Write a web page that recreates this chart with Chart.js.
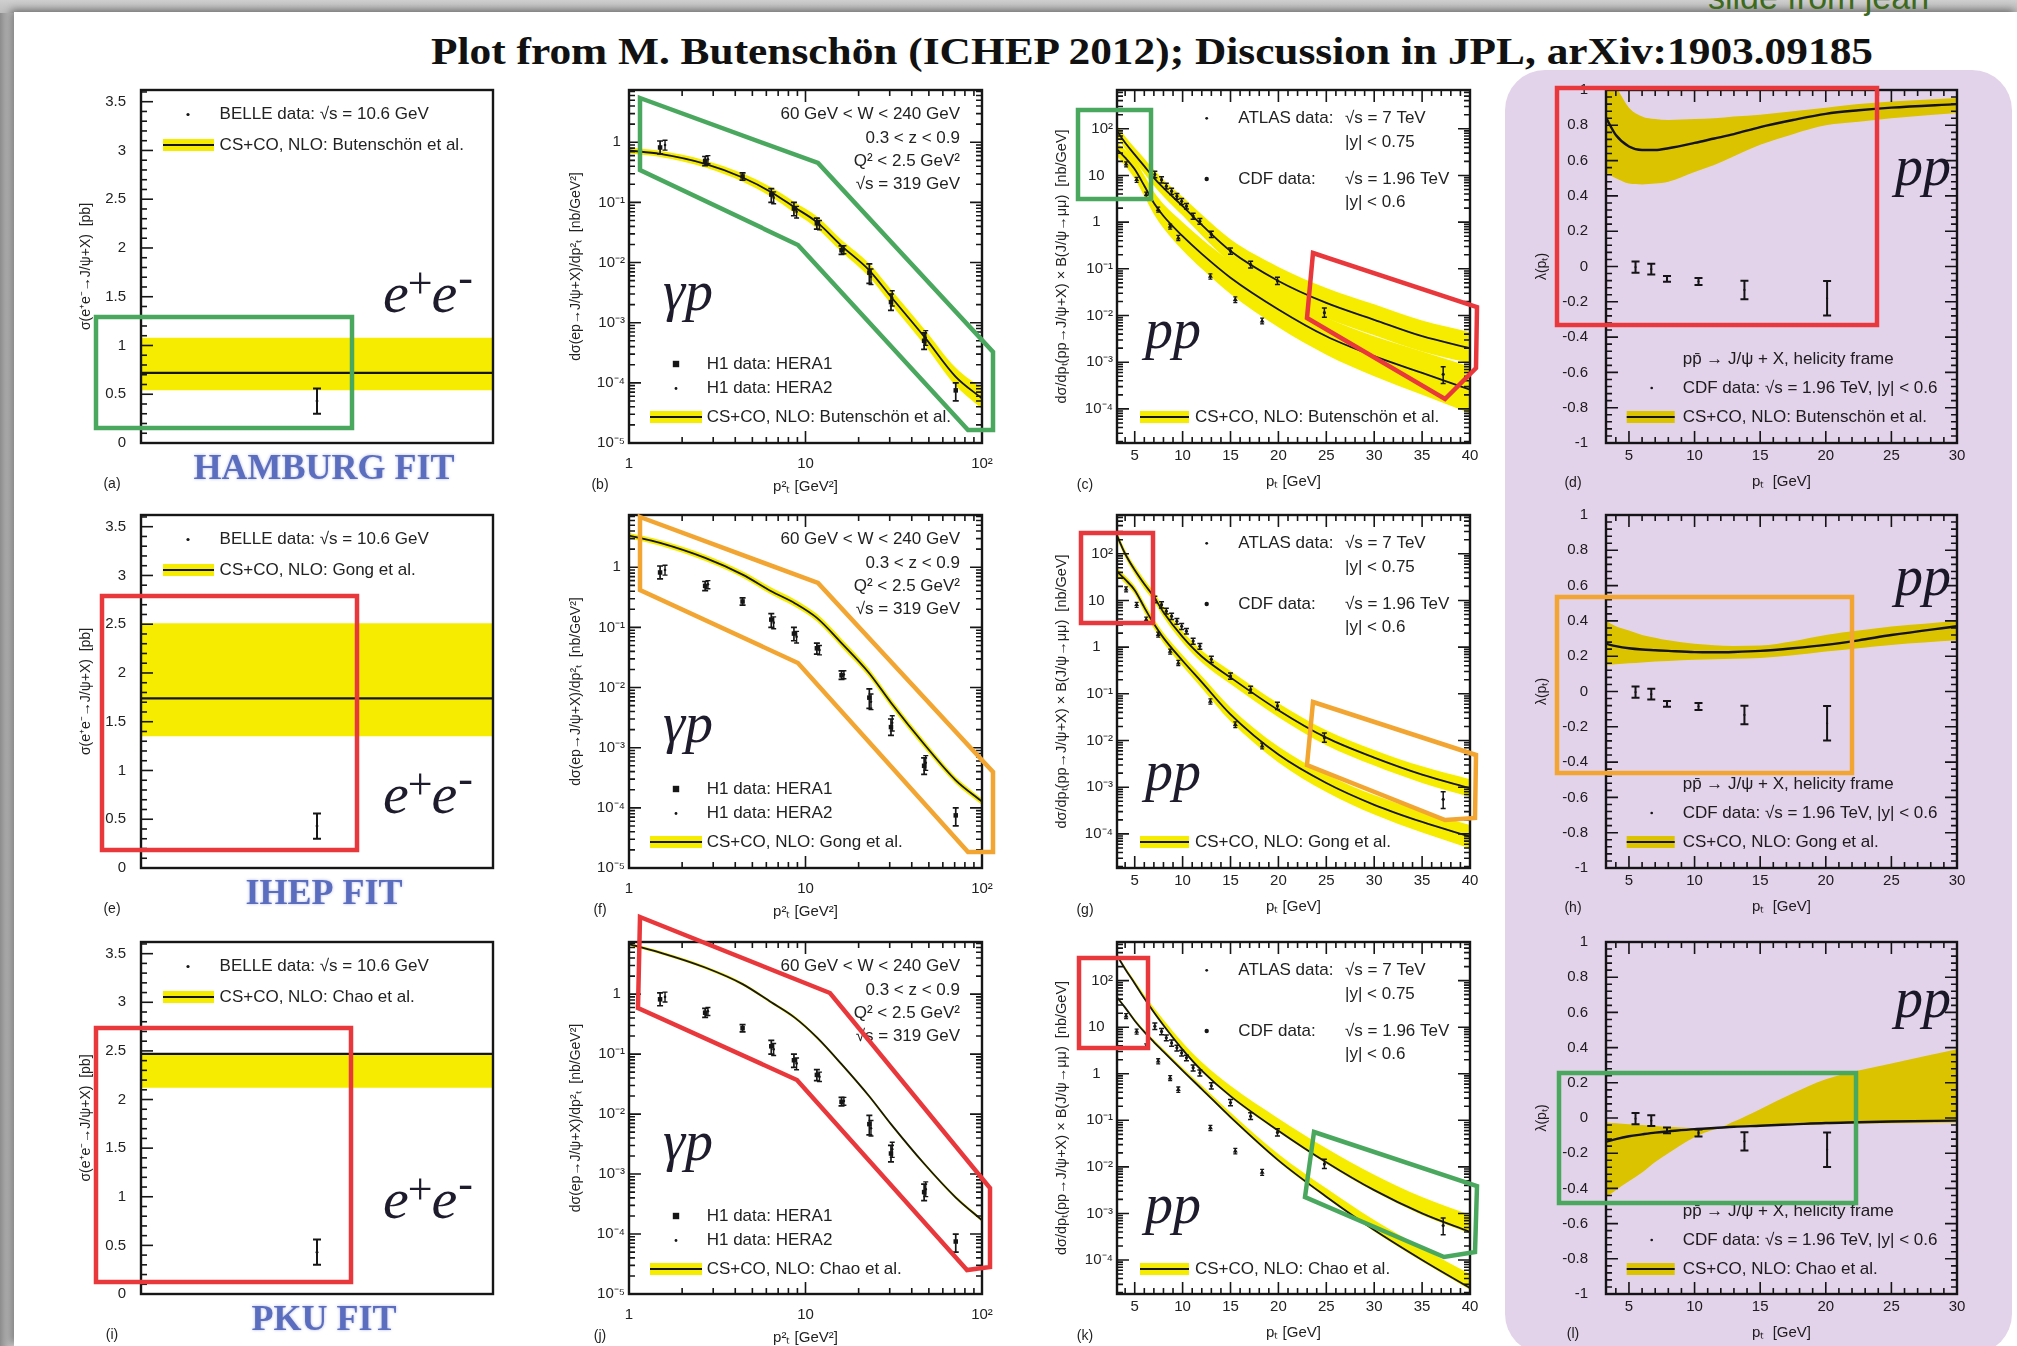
<!DOCTYPE html>
<html>
<head>
<meta charset="utf-8">
<title>J/ψ production and polarisation: three NLO NRQCD fits</title>
<script src="https://cdn.jsdelivr.net/npm/chart.js@4.4.1/dist/chart.umd.min.js"></script>
<style>
  html, body { margin: 0; padding: 0; }
  body { width: 2017px; height: 1346px; overflow: hidden; background: #9a9a9a; }
  #sheet { position: absolute; left: 0; top: 0; width: 2017px; height: 1346px; overflow: hidden;
           isolation: isolate; background: linear-gradient(to right, #8c8c8c 0px, #b9b9b9 8px, #d6d6d6 14px); }
  #topbar { position: absolute; left: 0; top: 0; width: 2017px; height: 13px;
            background: linear-gradient(to bottom, #cfcfcf, #bdbdbd); }
  #paper { position: absolute; left: 14px; top: 12px; right: 0; bottom: 0; background: #fff;
           box-shadow: -3px -2px 8px rgba(0,0,0,0.45); }
  #credit { position: absolute; left: 1708px; top: -22px; font: 34px "Liberation Sans Narrow", "Liberation Sans", sans-serif;
            color: #3d6a1c; white-space: nowrap; }
  #title { position: absolute; top: 30px; left: 0; white-space: nowrap; transform-origin: 0 0;
           font: bold 37px "Liberation Serif", "Times New Roman", serif; color: #111; }
  .panel { position: absolute; }
  .panel canvas { display: block; filter: blur(0.45px); }
  #lilac { position: absolute; left: 1505px; top: 70px; width: 507px; height: 1284px; border-radius: 40px;
           background: #e3d3ea; mix-blend-mode: multiply; pointer-events: none; }
  #boxes { position: absolute; left: 0; top: 0; pointer-events: none; }
</style>
</head>
<body>
<div id="sheet">
  <div id="topbar"></div>
  <div id="paper"></div>
  <div id="credit">slide from jean</div>
  <div id="title">Plot from M. Butenschön (ICHEP 2012); Discussion in JPL, arXiv:1903.09185</div>
  <div id="lilac"></div>
  <svg id="boxes" width="2017" height="1346" viewBox="0 0 2017 1346" fill="none" stroke-width="4.5" stroke-linejoin="miter">
    <g stroke="#4aa85e">
      <rect x="96" y="317" width="256" height="111"/>
      <polygon points="640,98 818,163 993,352 993,430 968,430 798,245 640,170"/>
      <rect x="1078" y="110" width="73" height="89"/>
      <polygon points="1314,1132 1477,1186 1475,1252 1444,1257 1305,1197"/>
      <rect x="1559" y="1073" width="297" height="130"/>
    </g>
    <g stroke="#e8383c">
      <polygon points="1313,253 1477,307 1476,368 1445,399 1307,318"/>
      <rect x="1557" y="88" width="320" height="237"/>
      <rect x="102" y="596" width="255" height="254"/>
      <rect x="1081" y="533" width="72" height="90"/>
      <rect x="96" y="1028" width="255" height="254"/>
      <polygon points="640,917 830,993 990,1188 990,1267 967,1270 797,1080 638,1008"/>
      <rect x="1079" y="958" width="69" height="90"/>
    </g>
    <g stroke="#f2a531">
      <polygon points="640,517 818,583 993,772 993,852 968,852 798,663 640,590"/>
      <polygon points="1313,702 1476,755 1475,818 1445,820 1307,765"/>
      <rect x="1557" y="597" width="295" height="176"/>
    </g>
  </svg>
</div>
<script>
// ======================= measured values =======================

// e+e- -> J/psi + X at sqrt(s) = 10.6 GeV (BELLE) and the three fits
const eeFitNames      = ['HAMBURG FIT', 'IHEP FIT', 'PKU FIT'];
const fitAuthors      = ['Butenschön et al.', 'Gong et al.', 'Chao et al.'];
const eeLineSpan      = [0, 1];
const eeCentral       = [0.72, 1.74, 2.47];
const eeBandLow       = [0.54, 1.35, 2.12];
const eeBandHigh      = [1.08, 2.51, 2.47];
const belleX          = [0.5];
const belleSigma      = [0.43];
const belleErr        = [0.13];

// photoproduction at HERA, d sigma / d pT^2 [nb/GeV^2]
const ptSqGrid        = [1, 1.5, 2.7, 4.4, 6.4, 8.65, 11.6, 16, 22.9, 30.5, 47.2, 70.8, 100];
const gpHamburg       = [0.73, 0.64, 0.437, 0.26, 0.148, 0.083, 0.047, 0.019, 0.0075, 0.0027, 5.8e-4, 1.27e-4, 5.5e-5];
const gpHamburgHi     = [0.82, 0.72, 0.50, 0.305, 0.178, 0.102, 0.059, 0.0239, 0.0097, 0.00356, 7.8e-4, 1.8e-4, 8.1e-5];
const gpHamburgLo     = [0.65, 0.57, 0.38, 0.221, 0.123, 0.0675, 0.0373, 0.0151, 0.0058, 0.00205, 4.3e-4, 9.0e-5, 3.7e-5];
const gpIhep          = [3.36, 2.54, 1.43, 0.755, 0.40, 0.255, 0.144, 0.055, 0.0175, 0.0056, 0.00113, 2.9e-4, 1.27e-4];
const gpIhepHi        = [3.7, 2.85, 1.62, 0.86, 0.46, 0.295, 0.168, 0.065, 0.0205, 0.0065, 0.0013, 3.3e-4, 1.42e-4];
const gpIhepLo        = [3.05, 2.28, 1.27, 0.67, 0.352, 0.222, 0.125, 0.047, 0.015, 0.0048, 9.8e-4, 2.55e-4, 1.12e-4];
const gpPku           = [6.8, 4.94, 2.78, 1.47, 0.73, 0.41, 0.19, 0.068, 0.02, 0.0068, 0.00147, 4.1e-4, 1.7e-4];
const gpPkuHi         = [7.2, 5.24, 2.95, 1.56, 0.77, 0.435, 0.2, 0.072, 0.0212, 0.0072, 0.00156, 4.35e-4, 1.8e-4];
const gpPkuLo         = [6.4, 4.66, 2.62, 1.39, 0.69, 0.387, 0.179, 0.064, 0.0189, 0.0064, 0.00139, 3.87e-4, 1.6e-4];
const hera1PtSq       = [1.5, 2.7, 4.4, 6.4, 8.6, 11.6, 16, 23, 30.5, 47, 71];
const hera1Xsec       = [0.82, 0.49, 0.27, 0.135, 0.079, 0.045, 0.016, 0.0068, 0.0022, 5.0e-4, 7.5e-5];
const hera1Lo         = [0.64, 0.41, 0.235, 0.10, 0.06, 0.036, 0.0137, 0.0045, 0.0016, 3.6e-4, 5.0e-5];
const hera1Hi         = [1.05, 0.58, 0.31, 0.17, 0.10, 0.055, 0.019, 0.0095, 0.0030, 6.8e-4, 1.0e-4];
const hera2PtSq       = [1.6, 2.8, 6.6, 8.9, 12, 16.5, 23.5, 31, 48];
const hera2Xsec       = [0.9, 0.52, 0.12, 0.07, 0.042, 0.0165, 0.0058, 0.0026, 5.6e-4];
const hera2Lo         = [0.74, 0.44, 0.095, 0.055, 0.035, 0.014, 0.0043, 0.0019, 4.2e-4];
const hera2Hi         = [1.08, 0.6, 0.15, 0.086, 0.05, 0.019, 0.0078, 0.0034, 7.4e-4];

// hadroproduction, d sigma/d pT x B(J/psi -> mu mu) [nb/GeV]
const ptGrid          = [3.15, 4, 5, 6, 7, 8, 10, 12, 15, 20, 25, 30, 35, 40];
const atlasHamburg    = [89, 50, 28, 15.8, 8.9, 5.4, 2.2, 0.87, 0.24, 0.055, 0.0186, 0.0081, 0.0036, 0.002];
const atlasHamburgHi  = [117, 68, 39, 23, 13.2, 8.1, 3.5, 1.45, 0.43, 0.11, 0.039, 0.0174, 0.0078, 0.0044];
const atlasHamburgLo  = [68, 37, 20.4, 11, 6.0, 3.55, 1.38, 0.52, 0.135, 0.0275, 0.0089, 0.0038, 0.0017, 9.5e-4];
const cdfHamburg      = [36.3, 24, 13.5, 6.0, 2.57, 1.35, 0.5, 0.209, 0.0646, 0.0135, 0.0036, 0.00135, 5.9e-4, 2.57e-4];
const cdfHamburgHi    = [51, 35.5, 21.4, 10, 4.47, 2.45, 1.0, 0.437, 0.145, 0.0324, 0.0091, 0.0036, 0.0017, 8.1e-4];
const cdfHamburgLo    = [25.7, 16.2, 8.5, 3.6, 1.48, 0.74, 0.25, 0.1, 0.0288, 0.0056, 0.00145, 5.0e-4, 2.0e-4, 8.1e-5];
const atlasIhep       = [245, 100, 44.7, 22.4, 12, 5.6, 1.66, 0.63, 0.224, 0.0447, 0.0115, 0.0043, 0.00186, 9.5e-4];
const atlasIhepHi     = [295, 120, 55, 28.2, 15.1, 7.2, 2.19, 0.85, 0.31, 0.063, 0.0166, 0.0063, 0.0028, 0.00148];
const atlasIhepLo     = [204, 83, 36.3, 17.8, 9.5, 4.4, 1.26, 0.47, 0.162, 0.0316, 0.0079, 0.0029, 0.00123, 6.2e-4];
const cdfIhep         = [41.7, 28.2, 16.6, 7.1, 3.16, 1.58, 0.51, 0.178, 0.0363, 0.005, 0.00123, 4.2e-4, 1.8e-4, 8.7e-5];
const cdfIhepHi       = [50, 33.9, 20.4, 8.9, 4.0, 2.04, 0.68, 0.24, 0.051, 0.0074, 0.0019, 6.8e-4, 3.1e-4, 1.55e-4];
const cdfIhepLo       = [34.7, 23.4, 13.5, 5.6, 2.5, 1.23, 0.39, 0.132, 0.0257, 0.0034, 7.9e-4, 2.6e-4, 1.07e-4, 4.9e-5];
const atlasPku        = [347, 178, 87, 41.7, 20.9, 11.0, 3.3, 1.17, 0.331, 0.060, 0.0126, 0.00316, 0.001, 4.0e-4];
const atlasPkuHi      = [380, 200, 100, 50, 26.3, 14.5, 4.7, 1.78, 0.55, 0.11, 0.0251, 0.0068, 0.00224, 9.3e-4];
const atlasPkuLo      = [324, 166, 81, 38.9, 19.5, 10.2, 3.09, 1.1, 0.309, 0.056, 0.0117, 0.00295, 9.3e-4, 3.7e-4];
const cdfPku          = [43.7, 26.3, 13.8, 7.9, 4.8, 3.0, 1.17, 0.468, 0.117, 0.0138, 0.00229, 4.4e-4, 1.0e-4, 2.5e-5];
const cdfPkuHi        = [46.8, 28.2, 15.1, 8.7, 5.4, 3.39, 1.35, 0.562, 0.148, 0.019, 0.00347, 7.2e-4, 1.82e-4, 5.0e-5];
const cdfPkuLo        = [40.7, 24.5, 12.9, 7.4, 4.47, 2.82, 1.1, 0.437, 0.11, 0.0129, 0.00214, 4.1e-4, 9.3e-5, 2.3e-5];
const atlasPt         = [7.1, 7.8, 8.3, 8.85, 9.4, 9.9, 10.4, 11.1, 11.8, 13.0, 15.0, 17.1, 19.9, 24.8, 37.2];
const atlasXsec       = [10.5, 8.1, 5.9, 4.6, 3.6, 2.8, 2.2, 1.35, 1.05, 0.55, 0.24, 0.123, 0.055, 0.0115, 5.5e-4];
const atlasLo         = [8.9, 6.9, 5.1, 3.9, 3.1, 2.4, 1.9, 1.15, 0.9, 0.47, 0.205, 0.104, 0.046, 0.0092, 3.5e-4];
const atlasHi         = [12.3, 9.4, 6.8, 5.3, 4.1, 3.2, 2.5, 1.55, 1.2, 0.64, 0.28, 0.145, 0.066, 0.0145, 8.0e-4];
const cdfPt           = [4.1, 5.2, 6.2, 7.45, 8.7, 9.55, 12.9, 15.5, 18.3];
const cdfXsec         = [17.4, 8.1, 3.9, 1.86, 0.81, 0.457, 0.069, 0.0219, 0.0076];
const cdfLo           = [15.3, 7.1, 3.4, 1.63, 0.71, 0.40, 0.06, 0.019, 0.0066];
const cdfHi           = [19.5, 9.1, 4.4, 2.1, 0.91, 0.52, 0.078, 0.025, 0.0088];

// polarisation lambda(pT), CDF Run II, helicity frame
const polPtGrid       = [3.25, 4, 5, 6, 7, 8, 10, 11.5, 13, 15, 17.5, 20, 22.5, 25, 30];
const lamHamburg      = [0.843, 0.745, 0.68, 0.66, 0.66, 0.67, 0.70, 0.725, 0.75, 0.79, 0.83, 0.865, 0.885, 0.90, 0.92];
const lamHamburgHi    = [1.1, 1.02, 0.9, 0.85, 0.835, 0.83, 0.835, 0.84, 0.85, 0.86, 0.88, 0.9, 0.92, 0.935, 0.955];
const lamHamburgLo    = [0.53, 0.5, 0.47, 0.465, 0.47, 0.48, 0.535, 0.575, 0.625, 0.69, 0.75, 0.80, 0.82, 0.84, 0.87];
const lamIhep         = [0.27, 0.257, 0.245, 0.238, 0.234, 0.23, 0.223, 0.222, 0.224, 0.23, 0.245, 0.264, 0.29, 0.32, 0.37];
const lamIhepHi       = [0.40, 0.37, 0.345, 0.32, 0.305, 0.29, 0.27, 0.262, 0.258, 0.26, 0.285, 0.32, 0.345, 0.368, 0.40];
const lamIhepLo       = [0.15, 0.155, 0.16, 0.165, 0.17, 0.173, 0.18, 0.183, 0.186, 0.19, 0.205, 0.226, 0.245, 0.264, 0.29];
const lamPku          = [-0.135, -0.12, -0.104, -0.093, -0.083, -0.076, -0.063, -0.057, -0.05, -0.044, -0.036, -0.028, -0.024, -0.02, -0.015];
const lamPkuHi        = [-0.025, -0.03, -0.035, -0.04, -0.045, -0.05, -0.058, -0.06, -0.02, 0.05, 0.14, 0.22, 0.27, 0.31, 0.39];
const lamPkuLo        = [-0.45, -0.41, -0.36, -0.31, -0.25, -0.2, -0.11, -0.065, -0.052, -0.045, -0.04, -0.035, -0.032, -0.03, -0.025];
const cdfPolPt        = [5.5, 6.7, 7.9, 10.3, 13.8, 20.1];
const cdfLambda       = [-0.004, -0.015, -0.07, -0.085, -0.133, -0.18];
const cdfLambdaErr    = [0.032, 0.03, 0.016, 0.02, 0.052, 0.098];

// tick labels
const supDigits = {'-': '⁻', '0': '⁰', '1': '¹', '2': '²', '3': '³', '4': '⁴', '5': '⁵', '6': '⁶', '7': '⁷', '8': '⁸', '9': '⁹'};
const eeTickStep = 0.5;
const lamTickStep = 0.2;
const ptTickStep = 5;

// ======================= drawing =======================
const sheet = document.getElementById('sheet');
const lilac = document.getElementById('lilac');
const INK = '#161616';
const TXT = '#222';
const BIG = '#1d1b2c';
const YELLOW = 'rgb(246,236,0)';
const SANS = '"Liberation Sans", Arial, sans-serif';
const SERIF = '"Liberation Serif", "Times New Roman", serif';
const PADL = 75, PADT = 15, PADR = 35, AXB = 65;

const rowTop = [90, 515, 942];
const rowBottom = [443, 868, 1294];
const colLeft = [141, 629, 1117, 1606];
const colRight = [493, 982, 1470, 1957];

// title, fitted to its measured width
(function () {
  const t = document.getElementById('title');
  const w = t.getBoundingClientRect().width;
  const target = 1442;
  t.style.transform = `scaleX(${target / w})`;
  t.style.left = '431px';
})();

const pts = (xs, ys) => xs.map((x, i) => ({x, y: ys[i]}));

function powerLabel(v, padOne, padTen) {
  const e = Math.log10(v);
  const r = Math.round(e);
  if (Math.abs(e - r) > 1e-6) return '';
  if (r === 0) return '1' + (padOne || '');
  if (r === 1) return '10' + (padTen || '');
  return '10' + String(r).split('').map(c => supDigits[c]).join('');
}
function stepLabel(step) {
  return v => {
    const r = v / step;
    if (Math.abs(r - Math.round(r)) > 1e-6) return '';
    return String(+Number(v).toFixed(2));
  };
}

// error bars drawn through the chart scales
const errorBars = {
  id: 'errorBars',
  afterDatasetsDraw(chart) {
    const {ctx, chartArea: a} = chart;
    const xs = chart.scales.x, ys = chart.scales.y;
    chart.data.datasets.forEach((ds) => {
      if (!ds.errLow) return;
      ctx.save();
      ctx.beginPath();
      ctx.rect(a.left, a.top, a.right - a.left, a.bottom - a.top);
      ctx.clip();
      ctx.strokeStyle = INK;
      ctx.lineWidth = ds.errWidth || 1.7;
      const c = ds.capHalf || 3;
      ds.data.forEach((p, k) => {
        const px = xs.getPixelForValue(p.x);
        const y1 = ys.getPixelForValue(ds.errLow[k]);
        const y2 = ys.getPixelForValue(ds.errHigh[k]);
        ctx.beginPath();
        ctx.moveTo(px, y1); ctx.lineTo(px, y2);
        ctx.moveTo(px - c, y1); ctx.lineTo(px + c, y1);
        ctx.moveTo(px - c, y2); ctx.lineTo(px + c, y2);
        ctx.stroke();
      });
      ctx.restore();
    });
  }
};
Chart.register(errorBars);

function tickValues(scale, t) {
  const out = [];
  if (t.log) {
    const k0 = Math.floor(Math.log10(scale.min)), k1 = Math.ceil(Math.log10(scale.max));
    for (let k = k0; k <= k1; k++) {
      for (let m = 1; m <= 9; m++) {
        const v = m * Math.pow(10, k);
        if (v >= scale.min * 0.9999 && v <= scale.max * 1.0001) out.push({v, major: m === 1});
      }
    }
  } else {
    const n0 = Math.ceil(scale.min / t.minor - 1e-6), n1 = Math.floor(scale.max / t.minor + 1e-6);
    for (let n = n0; n <= n1; n++) {
      const v = n * t.minor;
      const r = v / t.major;
      out.push({v, major: Math.abs(r - Math.round(r)) < 1e-6});
    }
  }
  return out;
}

function drawTicks(ctx, scale, a, t, horizontal) {
  if (!t) return;
  tickValues(scale, t).forEach(({v, major}) => {
    const len = major ? 12 : 6;
    const p = scale.getPixelForValue(v);
    ctx.beginPath();
    if (horizontal) {
      if (t.sides.includes('bottom')) { ctx.moveTo(p, a.bottom); ctx.lineTo(p, a.bottom - len); }
      if (t.sides.includes('top')) { ctx.moveTo(p, a.top); ctx.lineTo(p, a.top + len); }
    } else {
      if (t.sides.includes('left')) { ctx.moveTo(a.left, p); ctx.lineTo(a.left + len, p); }
      if (t.sides.includes('right')) { ctx.moveTo(a.right, p); ctx.lineTo(a.right - len, p); }
    }
    ctx.stroke();
  });
}

function drawNote(ctx, a, n) {
  const x = a.left + n.x;
  const y = n.fromBottom ? a.bottom + n.y : a.top + n.y;
  ctx.save();
  if (n.t === 'text') {
    ctx.font = n.font || `17px ${SANS}`;
    ctx.fillStyle = n.color || TXT;
    ctx.textAlign = n.align || 'left';
    ctx.textBaseline = 'middle';
    if (n.glow) { ctx.shadowColor = n.glow; ctx.shadowBlur = 3; }
    ctx.fillText(n.s, x, y);
  } else if (n.t === 'key') {
    ctx.fillStyle = n.fill || YELLOW;
    ctx.fillRect(x, y - 6, n.w, 12);
    ctx.strokeStyle = INK; ctx.lineWidth = 2.2;
    ctx.beginPath(); ctx.moveTo(x, y); ctx.lineTo(x + n.w, y); ctx.stroke();
  } else if (n.t === 'dot') {
    ctx.fillStyle = INK;
    if (n.shape === 'rect') ctx.fillRect(x - n.r, y - n.r, 2 * n.r, 2 * n.r);
    else { ctx.beginPath(); ctx.arc(x, y, n.r, 0, 2 * Math.PI); ctx.fill(); }
  } else if (n.t === 'italic') {
    ctx.font = `italic 56px ${SERIF}`;
    ctx.fillStyle = BIG;
    ctx.textBaseline = 'alphabetic';
    ctx.fillText(n.s, x, y);
  } else if (n.t === 'ee') {
    ctx.fillStyle = BIG;
    ctx.textBaseline = 'alphabetic';
    const big = `italic 58px ${SERIF}`, small = `44px ${SERIF}`;
    let cx = x;
    ctx.font = big; ctx.fillText('e', cx, y); cx += ctx.measureText('e').width;
    ctx.font = small; ctx.fillText('+', cx - 1, y - 14); cx += ctx.measureText('+').width - 2;
    ctx.font = big; ctx.fillText('e', cx, y); cx += ctx.measureText('e').width;
    ctx.font = small; ctx.fillText('-', cx + 1, y - 20);
  }
  ctx.restore();
}

function decor(spec) {
  return {
    id: 'decor',
    afterDraw(chart) {
      const {ctx, chartArea: a} = chart;
      ctx.save();
      ctx.strokeStyle = INK;
      ctx.lineWidth = 1.6;
      drawTicks(ctx, chart.scales.x, a, spec.xTicks, true);
      drawTicks(ctx, chart.scales.y, a, spec.yTicks, false);
      ctx.lineWidth = 2.4;
      ctx.strokeRect(a.left, a.top, a.right - a.left, a.bottom - a.top);
      ctx.restore();
      spec.notes.forEach(n => drawNote(ctx, a, n));
    }
  };
}

function axis(isX, o) {
  const s = {
    type: o.log ? 'logarithmic' : 'linear',
    min: o.min, max: o.max,
    grid: {display: false, drawTicks: false},
    border: {display: false},
    ticks: {
      display: !!o.labels,
      autoSkip: false,
      includeBounds: false,
      maxRotation: 0, minRotation: 0,
      padding: o.pad ?? 6,
      font: {family: SANS, size: 15},
      color: TXT,
      callback: o.labels || (() => '')
    },
    title: o.title
      ? {display: true, text: o.title, color: TXT, font: {family: SANS, size: o.titleSize || 15}, padding: o.titlePad}
      : {display: false},
    afterFit(sc) {
      if (isX) sc.height = AXB; else sc.width = PADL;
      sc.paddingLeft = sc.paddingRight = sc.paddingTop = sc.paddingBottom = 0;
    }
  };
  if (!o.log && o.step) s.ticks.stepSize = o.step;
  return s;
}

function band(xs, hi, lo, order, fill) {
  return [
    {data: pts(xs, hi), showLine: true, borderWidth: 0, borderColor: 'rgba(0,0,0,0)', pointRadius: 0,
     backgroundColor: fill || YELLOW, fill: '+1', cubicInterpolationMode: 'monotone', order: order || 5},
    {data: pts(xs, lo), showLine: true, borderWidth: 0, borderColor: 'rgba(0,0,0,0)', pointRadius: 0,
     fill: false, cubicInterpolationMode: 'monotone', order: order || 5}
  ];
}
function curve(xs, ys, width) {
  return {data: pts(xs, ys), showLine: true, borderColor: INK, borderWidth: width || 2, pointRadius: 0,
          fill: false, cubicInterpolationMode: 'monotone', order: 2};
}
function points(xs, ys, lo, hi, style, r, extra) {
  return Object.assign({data: pts(xs, ys), showLine: false, pointStyle: style, pointRadius: r,
          pointBackgroundColor: INK, pointBorderColor: INK, pointBorderWidth: 0, order: 1,
          errLow: lo, errHigh: hi}, extra || {});
}

function makePanel(row, col, xAxis, yAxis, datasets, spec) {
  const l = colLeft[col], r = colRight[col], t = rowTop[row], b = rowBottom[row];
  const holder = document.createElement('div');
  holder.className = 'panel';
  holder.style.left = (l - PADL) + 'px';
  holder.style.top = (t - PADT) + 'px';
  const cv = document.createElement('canvas');
  cv.width = PADL + (r - l) + PADR;
  cv.height = PADT + (b - t) + AXB;
  cv.style.width = cv.width + 'px';
  cv.style.height = cv.height + 'px';
  holder.appendChild(cv);
  sheet.insertBefore(holder, lilac);
  new Chart(cv, {
    type: 'line',
    data: {datasets},
    options: {
      responsive: false, animation: false, devicePixelRatio: 1,
      layout: {padding: {left: 0, top: PADT, right: PADR, bottom: 0}},
      plugins: {legend: {display: false}, tooltip: {enabled: false}},
      scales: {x: axis(true, xAxis), y: axis(false, yAxis)}
    },
    plugins: [decor(spec)]
  });
}

const panelLetters = [['a', 'b', 'c', 'd'], ['e', 'f', 'g', 'h'], ['i', 'j', 'k', 'l']];

// ---- column 1: e+e- ----
const eeBaseline = [222, 298, 276];
for (let f = 0; f < 3; f++) {
  makePanel(f, 0,
    {min: 0, max: 1},
    {min: 0, max: 3.62, step: eeTickStep, labels: stepLabel(eeTickStep), pad: 15,
     title: 'σ(e⁺e⁻→J/ψ+X)  [pb]', titleSize: 14, titlePad: {top: 12}},
    [
      ...band(eeLineSpan, eeLineSpan.map(() => eeBandHigh[f]), eeLineSpan.map(() => eeBandLow[f])),
      curve(eeLineSpan, eeLineSpan.map(() => eeCentral[f]), 2.2),
      points(belleX, belleSigma, belleX.map((_, k) => belleSigma[k] - belleErr[k]),
             belleX.map((_, k) => belleSigma[k] + belleErr[k]), 'circle', 1.4, {capHalf: 4, errWidth: 2})
    ],
    {
      yTicks: {major: 0.5, minor: 0.1, sides: ['left']},
      notes: [
        {t: 'dot', x: 47, y: 24.5, r: 1.6},
        {t: 'text', x: 78.6, y: 24.5, s: 'BELLE data: √s = 10.6 GeV'},
        {t: 'key', x: 22, y: 55, w: 51},
        {t: 'text', x: 78.6, y: 55, s: 'CS+CO, NLO: ' + fitAuthors[f]},
        {t: 'ee', x: 242, y: eeBaseline[f]},
        {t: 'text', x: -29, y: 41, fromBottom: true, s: '(' + panelLetters[f][0] + ')', font: `14px ${SANS}`, align: 'center'},
        {t: 'text', x: 183, y: 27, fromBottom: true, s: eeFitNames[f], align: 'center',
         font: `bold 36px ${SERIF}`, color: '#5b6dbf', glow: 'rgba(120,130,200,0.6)'}
      ]
    });
}

// ---- column 2: photoproduction ----
const gpCurves = [gpHamburg, gpIhep, gpPku];
const gpHi = [gpHamburgHi, gpIhepHi, gpPkuHi];
const gpLo = [gpHamburgLo, gpIhepLo, gpPkuLo];
const gpBaseline = [220, 227, 218];
for (let f = 0; f < 3; f++) {
  makePanel(f, 1,
    {log: true, min: 1, max: 100, labels: v => powerLabel(v), pad: 12,
     title: 'p²ₜ [GeV²]', titlePad: {bottom: 12}},
    {log: true, min: 1e-5, max: 7.4, labels: v => powerLabel(v, ' '), pad: 4,
     title: 'dσ(ep→J/ψ+X)/dp²ₜ  [nb/GeV²]', titleSize: 14, titlePad: {top: 14}},
    [
      ...band(ptSqGrid, gpHi[f], gpLo[f]),
      curve(ptSqGrid, gpCurves[f], 1.8),
      points(hera1PtSq, hera1Xsec, hera1Lo, hera1Hi, 'rect', 3.2, {capHalf: 3}),
      points(hera2PtSq, hera2Xsec, hera2Lo, hera2Hi, 'circle', 1.3, {capHalf: 2.5, errWidth: 1.4})
    ],
    {
      xTicks: {log: true, sides: ['bottom', 'top']},
      yTicks: {log: true, sides: ['left', 'right']},
      notes: [
        {t: 'text', x: 331, y: 24, s: '60 GeV < W < 240 GeV', align: 'right'},
        {t: 'text', x: 331, y: 48, s: '0.3 < z < 0.9', align: 'right'},
        {t: 'text', x: 331, y: 71, s: 'Q² < 2.5 GeV²', align: 'right'},
        {t: 'text', x: 331, y: 94, s: '√s = 319 GeV', align: 'right'},
        {t: 'italic', x: 34, y: gpBaseline[f], s: 'γp'},
        {t: 'dot', x: 47, y: 274, r: 3.2, shape: 'rect'},
        {t: 'text', x: 77.7, y: 274, s: 'H1 data: HERA1'},
        {t: 'dot', x: 47, y: 298.5, r: 1.4},
        {t: 'text', x: 77.7, y: 298.5, s: 'H1 data: HERA2'},
        {t: 'key', x: 21, y: 327, w: 52},
        {t: 'text', x: 77.7, y: 327, s: 'CS+CO, NLO: ' + fitAuthors[f]},
        {t: 'text', x: -29, y: 42, fromBottom: true, s: '(' + panelLetters[f][1] + ')', font: `14px ${SANS}`, align: 'center'}
      ]
    });
}

// ---- column 3: hadroproduction ----
const atlasCurves = [atlasHamburg, atlasIhep, atlasPku];
const atlasCurvesHi = [atlasHamburgHi, atlasIhepHi, atlasPkuHi];
const atlasCurvesLo = [atlasHamburgLo, atlasIhepLo, atlasPkuLo];
const cdfCurves = [cdfHamburg, cdfIhep, cdfPku];
const cdfCurvesHi = [cdfHamburgHi, cdfIhepHi, cdfPkuHi];
const cdfCurvesLo = [cdfHamburgLo, cdfIhepLo, cdfPkuLo];
const ppBaseline = [258, 275, 281];
for (let f = 0; f < 3; f++) {
  makePanel(f, 2,
    {min: 3.15, max: 40, step: ptTickStep, labels: stepLabel(ptTickStep), pad: 4,
     title: 'pₜ [GeV]', titlePad: {bottom: 17}},
    {log: true, min: 1.86e-5, max: 676, labels: v => powerLabel(v, '   ', '  '), pad: 4,
     title: 'dσ/dpₜ(pp→J/ψ+X) × B(J/ψ→μμ)  [nb/GeV]', titleSize: 14.5, titlePad: {top: 11}},
    [
      ...band(ptGrid, atlasCurvesHi[f], atlasCurvesLo[f]),
      ...band(ptGrid, cdfCurvesHi[f], cdfCurvesLo[f]),
      curve(ptGrid, atlasCurves[f], 1.8),
      curve(ptGrid, cdfCurves[f], 1.8),
      points(atlasPt, atlasXsec, atlasLo, atlasHi, 'circle', 1.6, {capHalf: 2.5, errWidth: 1.5}),
      points(cdfPt, cdfXsec, cdfLo, cdfHi, 'triangle', 2.8, {capHalf: 2, errWidth: 1.3})
    ],
    {
      xTicks: {major: 5, minor: 1, sides: ['bottom', 'top']},
      yTicks: {log: true, sides: ['left', 'right']},
      notes: [
        {t: 'dot', x: 89.7, y: 28.3, r: 1.4},
        {t: 'text', x: 121.3, y: 28.3, s: 'ATLAS data:'},
        {t: 'text', x: 228, y: 28.3, s: '√s = 7 TeV'},
        {t: 'text', x: 228, y: 52, s: '|y| < 0.75'},
        {t: 'dot', x: 89.7, y: 89, r: 2.2},
        {t: 'text', x: 121.3, y: 89, s: 'CDF data:'},
        {t: 'text', x: 228, y: 89, s: '√s = 1.96 TeV'},
        {t: 'text', x: 228, y: 112, s: '|y| < 0.6'},
        {t: 'italic', x: 28, y: ppBaseline[f], s: 'pp'},
        {t: 'key', x: 23, y: 327, w: 49},
        {t: 'text', x: 78, y: 327, s: 'CS+CO, NLO: ' + fitAuthors[f]},
        {t: 'text', x: -32, y: 42, fromBottom: true, s: '(' + panelLetters[f][2] + ')', font: `14px ${SANS}`, align: 'center'}
      ]
    });
}

// ---- column 4: polarisation ----
const lamCurves = [lamHamburg, lamIhep, lamPku];
const lamCurvesHi = [lamHamburgHi, lamIhepHi, lamPkuHi];
const lamCurvesLo = [lamHamburgLo, lamIhepLo, lamPkuLo];
const lamBaseline = [95, 80, 75];
for (let f = 0; f < 3; f++) {
  makePanel(f, 3,
    {min: 3.25, max: 30, step: ptTickStep, labels: stepLabel(ptTickStep), pad: 4,
     title: 'pₜ  [GeV]', titlePad: {bottom: 17}},
    {min: -1, max: 1, step: lamTickStep, labels: stepLabel(lamTickStep), pad: 18,
     title: 'λ(pₜ)', titleSize: 14, titlePad: {top: 3}},
    [
      ...band(polPtGrid, lamCurvesHi[f], lamCurvesLo[f]),
      curve(polPtGrid, lamCurves[f], 2.4),
      points(cdfPolPt, cdfLambda, cdfPolPt.map((_, k) => cdfLambda[k] - cdfLambdaErr[k]),
             cdfPolPt.map((_, k) => cdfLambda[k] + cdfLambdaErr[k]), 'circle', 1.1, {capHalf: 4, errWidth: 2})
    ],
    {
      xTicks: {major: 5, minor: 1, sides: ['bottom', 'top']},
      yTicks: {major: 0.2, minor: 0.04, sides: ['left', 'right']},
      notes: [
        {t: 'italic', x: 289, y: lamBaseline[f], s: 'pp'},
        {t: 'text', x: 76.7, y: 269, s: 'pp̄ → J/ψ + X, helicity frame'},
        {t: 'dot', x: 45.7, y: 298, r: 1.3},
        {t: 'text', x: 76.7, y: 298, s: 'CDF data: √s = 1.96 TeV, |y| < 0.6'},
        {t: 'key', x: 20.7, y: 327, w: 48},
        {t: 'text', x: 76.7, y: 327, s: 'CS+CO, NLO: ' + fitAuthors[f]},
        {t: 'text', x: -33, y: 40, fromBottom: true, s: '(' + panelLetters[f][3] + ')', font: `14px ${SANS}`, align: 'center'}
      ]
    });
}
</script>
</body>
</html>
